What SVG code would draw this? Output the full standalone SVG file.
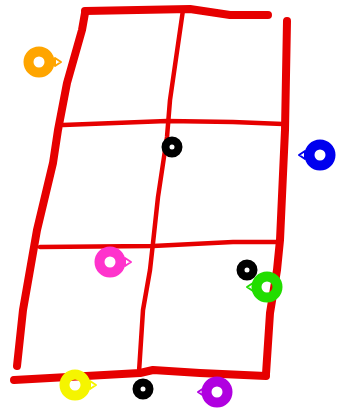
<svg xmlns="http://www.w3.org/2000/svg" width="338" height="408" viewBox="0 0 338 408">
<style>
.r{fill:none;stroke:#e60000;stroke-linecap:round;stroke-linejoin:round}
.thick{stroke-width:8}
.thin{stroke-width:4.5}
.ring{fill:none;stroke-width:10}
.dot{fill:none;stroke:#000;stroke-width:8}
.tip{stroke-width:2;fill:#fff;stroke-linejoin:round}
</style>
<rect width="338" height="408" fill="#fff"/>
<g id="grid">
<path class="r thick" d="M85,11 L190,9 L230,15 L268,15"/>
<path class="r thick" d="M85,13 L82,30 L67,83 L58,130 L53,163 L37,230 L30,270 L23,310 L17,366"/>
<path class="r thick" d="M287,21 L285,130 L280,240 L277,270 L270,313 L266,374"/>
<path class="r thick" d="M14,380 L140,373 L153,370 L200,373 L266,376"/>
<path class="r thin" d="M183,10 L170,100 L167,137 L158,197 L153,243 L150,270 L143,310 L139,372"/>
<path class="r thin" d="M63,125 L167,121 L233,122 L283,124"/>
<path class="r thin" d="M40,247 L153,246 L233,242 L277,242"/>
</g>
<g id="orange">
<path class="tip" stroke="#ffa500" d="M55,58 L61,62 L55,66 Z"/>
<circle class="ring" stroke="#ffa500" cx="39" cy="62" r="10.5"/>
</g>
<g id="black1"><circle class="dot" cx="172" cy="147" r="6.5"/></g>
<g id="blue">
<path class="tip" stroke="#0000ee" d="M305,151 L299,155 L305,159 Z"/>
<circle class="ring" stroke="#0000ee" cx="320" cy="155" r="10.5"/>
</g>
<g id="pink">
<path class="tip" stroke="#ff33cc" d="M125,258 L131,262 L125,266 Z"/>
<circle class="ring" stroke="#ff33cc" cx="110" cy="262" r="10.5"/>
</g>
<g id="black2"><circle class="dot" cx="247" cy="270" r="6.5"/></g>
<g id="green">
<path class="tip" stroke="#22dd00" d="M253,283 L247,287 L253,291 Z"/>
<circle class="ring" stroke="#22dd00" cx="267" cy="287" r="10.5"/>
</g>
<g id="yellow">
<path class="tip" stroke="#f5f500" d="M90,381 L96,385 L90,389 Z"/>
<circle class="ring" stroke="#f5f500" cx="75" cy="385" r="10.5"/>
</g>
<g id="black3"><circle class="dot" cx="143" cy="389" r="6.5"/></g>
<g id="purple">
<path class="tip" stroke="#b000e0" d="M204,388 L198,392 L204,396 Z"/>
<circle class="ring" stroke="#b000e0" cx="217" cy="392" r="10.5"/>
</g>
</svg>
